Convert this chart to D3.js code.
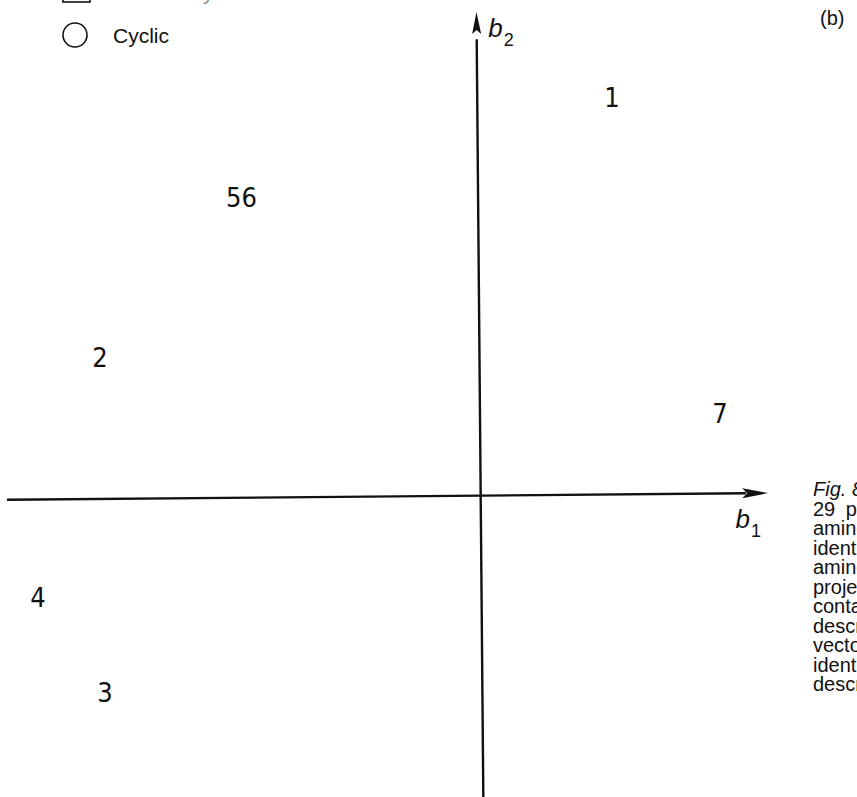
<!DOCTYPE html>
<html><head><meta charset="utf-8">
<script src="https://cdn.jsdelivr.net/npm/d3@7"></script>
<style>html,body{margin:0;padding:0;background:#fff;overflow:hidden}</style>
</head><body>
<script>
// ---- data ----
const labels = ["1", "56", "2", "7", "4", "3"];
const b1Values = [1.386, -2.525, -4.018, 2.526, -4.673, -3.966];
const b2Values = [4.094, 3.069, 1.417, 0.850, -1.044, -2.022];
const legendLabels = ["Secondary", "Cyclic"];
const legendShapes = ["square", "circle"];
const axisLabels = ["b", "b"];
const axisSubs = ["1", "2"];
const panelLabel = "(b)";
const captionLines = ["Fig. 8.", "29 peptides", "amino acids", "identical", "amino acid", "projection", "contains", "descriptor", "vectors", "identical", "descriptors"];

const W = 857, H = 797;
const svg = d3.select("body").append("svg").attr("width", W).attr("height", H);

const x = d3.scaleLinear().domain([-5, 3]).range([7, 764.9]);
const y = d3.scaleLinear().domain([-3, 5]).range([787, 10]);

const ink = "#111";
const ox = x(0), oy = y(0);
// axes (slightly rotated like the hand-drawn original)
const ax = svg.append("g").attr("transform", `rotate(-0.5, ${ox}, ${oy})`);
ax.append("line").attr("x1", x(-5)).attr("y1", oy).attr("x2", x(2.8)).attr("y2", oy)
  .attr("stroke", ink).attr("stroke-width", 2.4);
ax.append("line").attr("x1", ox).attr("y1", y(-3.12)).attr("x2", ox).attr("y2", y(4.7))
  .attr("stroke", ink).attr("stroke-width", 2.4);
const hx = x(3.035);
ax.append("path").attr("d", `M${hx},${oy} L${hx-26},${oy-5} L${hx-21},${oy} L${hx-26},${oy+5} Z`).attr("fill", ink);
const vy = y(4.98);
ax.append("path").attr("d", `M${ox},${vy} L${ox-4.5},${vy+22} L${ox},${vy+18} L${ox+4.5},${vy+22} Z`).attr("fill", ink);

// axis labels
function axisLabel(px, py, i) {
  const t = svg.append("text").attr("x", px).attr("y", py)
    .attr("font-family", "Liberation Sans, Arial, sans-serif").attr("fill", ink);
  t.append("tspan").attr("font-style", "italic").attr("font-size", 26).text(axisLabels[i]);
  t.append("tspan").attr("font-size", 18).attr("dy", 9).attr("dx", 1).text(axisSubs[i]);
}
axisLabel(x(2.69), y(-0.335), 0);
axisLabel(x(0.08), y(4.72), 1);

// point labels
svg.selectAll("text.pt").data(labels).enter().append("text").attr("class", "pt")
  .attr("x", (d, i) => x(b1Values[i])).attr("y", (d, i) => y(b2Values[i]))
  .attr("text-anchor", "middle").attr("dominant-baseline", "central")
  .attr("font-family", "Liberation Sans Narrow, DejaVu Sans Condensed, sans-serif")
  .attr("font-size", 27).attr("fill", ink).text(d => d);

// legend
const lg = svg.append("g").attr("font-family", "Liberation Sans, Arial, sans-serif");
legendLabels.forEach((lab, i) => {
  const cy = 35 + (i - 1) * 38;
  if (legendShapes[i] === "circle") {
    lg.append("circle").attr("cx", 75).attr("cy", cy).attr("r", 12)
      .attr("fill", "none").attr("stroke", ink).attr("stroke-width", 1.6);
  } else {
    lg.append("rect").attr("x", 63).attr("y", cy - 19).attr("width", 27).attr("height", 24)
      .attr("fill", "none").attr("stroke", ink).attr("stroke-width", 1.6);
  }
  lg.append("text").attr("x", 113).attr("y", i === 0 ? cy + 3 : cy + 8).attr("font-size", 21)
    .attr("fill", i === 0 ? "#888" : ink).text(lab);
});

// panel label
svg.append("text").attr("x", 820).attr("y", 25).attr("font-family", "Liberation Sans, Arial, sans-serif")
  .attr("font-size", 20).attr("fill", ink).text(panelLabel);

// caption (clipped at the right edge as in the original)
const cap = svg.append("g").attr("font-family", "Liberation Sans, Arial, sans-serif").attr("font-size", 20).attr("fill", ink);
captionLines.forEach((l, i) => {
  cap.append("text").attr("x", 813).attr("y", 496 + i * 19.5)
    .attr("font-style", i === 0 ? "italic" : "normal")
    .attr("word-spacing", i === 1 ? 5 : 0).text(l);
});
</script>
</body></html>
